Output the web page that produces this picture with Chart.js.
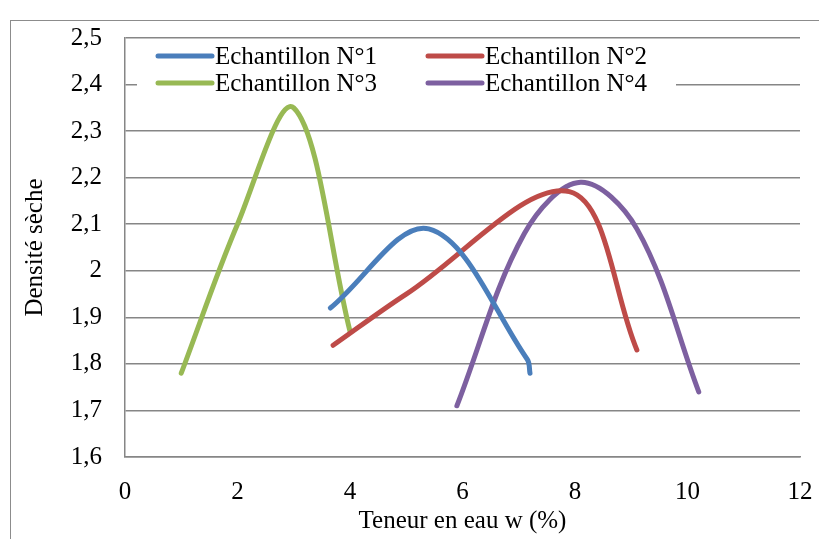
<!DOCTYPE html>
<html>
<head>
<meta charset="utf-8">
<script src="https://cdn.jsdelivr.net/npm/chart.js@4/dist/chart.umd.min.js"></script>
<style>
    html, body { margin: 0; padding: 0; background: #fff; }
    #wrap { width: 819px; height: 539px; }
</style>
</head>
<body>
<div id="wrap"><canvas id="chart" width="819" height="539"></canvas></div>
<script>
// --- données ---
const labels = ['Echantillon N°1', 'Echantillon N°2', 'Echantillon N°3', 'Echantillon N°4'];
const colors = ['#4A7EBB', '#BE4B48', '#98B954', '#7D60A0'];

const w1 = [3.65, 5.4, 7.15, 7.2];
const d1 = [1.92, 2.09, 1.81, 1.78];

const w2 = [3.7, 5.0, 7.9, 9.1];
const d2 = [1.84, 1.95, 2.17, 1.83];

const w3 = [1.0, 2.0, 3.0, 4.0];
const d3 = [1.78, 2.1, 2.35, 1.87];

const w4 = [5.9, 7.1, 8.1, 9.1, 10.2];
const d4 = [1.71, 2.08, 2.19, 2.09, 1.74];

const xTitle = 'Teneur en eau w (%)';
const yTitle = 'Densité sèche';

const FONT = "'Liberation Serif', 'Times New Roman', serif";
const GRID = '#868686';

function toPoints(xs, ys) {
    return xs.map((x, i) => ({ x: x, y: ys[i] }));
}
const series = [[w1, d1], [w2, d2], [w3, d3], [w4, d4]];

// cadre gris autour du graphique
const framePlugin = {
    id: 'frame',
    beforeDraw(chart) {
        const c = chart.ctx;
        c.save();
        c.fillStyle = '#fff';
        c.fillRect(0, 0, chart.width, chart.height);
        c.strokeStyle = '#8c8c8c';
        c.lineWidth = 1;
        c.strokeRect(10.5, 20.5, 900, 600);
        c.restore();
    }
};

// légende dans la zone de tracé (2 colonnes)
const legendPlugin = {
    id: 'innerLegend',
    afterDatasetsDraw(chart) {
        const c = chart.ctx;
        c.save();
        c.fillStyle = '#fff';
        c.fillRect(137, 44, 539, 56);
        c.font = '25px ' + FONT;
        c.textBaseline = 'middle';
        c.lineCap = 'round';
        chart.data.datasets.forEach((ds, i) => {
            const col = i % 2, row = Math.floor(i / 2);
            const x = col === 0 ? 158 : 428;
            const y = row === 0 ? 56 : 83;
            c.strokeStyle = ds.borderColor;
            c.lineWidth = 5;
            c.beginPath();
            c.moveTo(x, y);
            c.lineTo(x + 54, y);
            c.stroke();
            c.fillStyle = '#000';
            c.fillText(ds.label, x + 57, y + 1);
        });
        c.restore();
    }
};

const ctx = document.getElementById('chart').getContext('2d');
const chart = new Chart(ctx, {
    type: 'scatter',
    data: {
        datasets: series.map((s, i) => ({
            label: labels[i],
            data: toPoints(s[0], s[1]),
            showLine: true,
            borderColor: colors[i],
            backgroundColor: colors[i],
            borderWidth: 5,
            borderCapStyle: 'round',
            borderJoinStyle: 'round',
            pointRadius: 0,
            pointHoverRadius: 0,
            tension: 0.35
        }))
    },
    options: {
        responsive: false,
        animation: false,
        layout: { padding: { top: 38, right: 19, left: 0, bottom: 0 } },
        plugins: {
            legend: { display: false },
            tooltip: { enabled: false }
        },
        scales: {
            x: {
                type: 'linear',
                min: 0, max: 12,
                afterFit(scale) {
                    scale.height = 82;
                    scale.paddingLeft = 0;
                    scale.paddingRight = 0;
                },
                grid: { display: false, drawTicks: false },
                border: { display: true, color: GRID, width: 1.5 },
                ticks: {
                    stepSize: 2,
                    padding: 20,
                    color: '#000',
                    font: { family: FONT, size: 25 }
                },
                title: {
                    display: true,
                    text: xTitle,
                    color: '#000',
                    font: { family: FONT, size: 25 },
                    padding: { top: 0, bottom: 3 }
                }
            },
            y: {
                type: 'linear',
                min: 1.6, max: 2.5,
                afterFit(scale) { scale.width = 125; },
                grid: { color: GRID, lineWidth: 1.5, drawTicks: false },
                border: { display: true, color: GRID, width: 1.5 },
                ticks: {
                    stepSize: 0.1,
                    padding: 23,
                    color: '#000',
                    font: { family: FONT, size: 25 },
                    callback: v => String(Number(v.toFixed(1))).replace('.', ',')
                },
                title: {
                    display: true,
                    text: yTitle,
                    color: '#000',
                    font: { family: FONT, size: 25 },
                    padding: { top: 20, bottom: 0 }
                }
            }
        }
    },
    plugins: [framePlugin, legendPlugin]
});
</script>
</body>
</html>
